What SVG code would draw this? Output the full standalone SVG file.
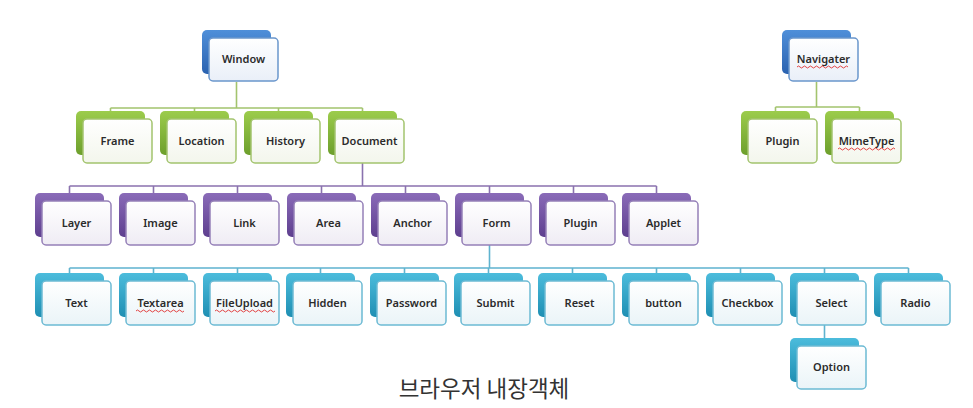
<svg xmlns="http://www.w3.org/2000/svg" width="973" height="408" viewBox="0 0 973 408">
<defs>
<linearGradient id="gBlueBack" x1="0" y1="0" x2="0" y2="1"><stop offset="0" stop-color="#4f8fd9"/><stop offset="1" stop-color="#2a62b0"/></linearGradient>
<linearGradient id="gGreenBack" x1="0" y1="0" x2="0" y2="1"><stop offset="0" stop-color="#9ccc4c"/><stop offset="1" stop-color="#6d9f2c"/></linearGradient>
<linearGradient id="gPurpleBack" x1="0" y1="0" x2="0" y2="1"><stop offset="0" stop-color="#8a6bb8"/><stop offset="1" stop-color="#5e3f8f"/></linearGradient>
<linearGradient id="gCyanBack" x1="0" y1="0" x2="0" y2="1"><stop offset="0" stop-color="#4cbcdc"/><stop offset="1" stop-color="#1f8fb3"/></linearGradient>
<linearGradient id="gBlueFront" x1="0" y1="0" x2="0" y2="1"><stop offset="0" stop-color="#ffffff"/><stop offset="1" stop-color="#e9eff8"/></linearGradient>
<linearGradient id="gGreenFront" x1="0" y1="0" x2="0" y2="1"><stop offset="0" stop-color="#ffffff"/><stop offset="1" stop-color="#f3f6ec"/></linearGradient>
<linearGradient id="gPurpleFront" x1="0" y1="0" x2="0" y2="1"><stop offset="0" stop-color="#ffffff"/><stop offset="1" stop-color="#efecf4"/></linearGradient>
<linearGradient id="gCyanFront" x1="0" y1="0" x2="0" y2="1"><stop offset="0" stop-color="#ffffff"/><stop offset="1" stop-color="#eaf4f8"/></linearGradient>
</defs>
<style>
.back{rx:5;ry:5}
.front{rx:4;ry:4;stroke-width:1.5}
.blue .back{fill:url(#gBlueBack)}
.blue .front{fill:url(#gBlueFront);stroke:#6a96cc}
.green .back{fill:url(#gGreenBack)}
.green .front{fill:url(#gGreenFront);stroke:#a3c46e}
.purple .back{fill:url(#gPurpleBack)}
.purple .front{fill:url(#gPurpleFront);stroke:#9580b8}
.cyan .back{fill:url(#gCyanBack)}
.cyan .front{fill:url(#gCyanFront);stroke:#6cbad4}
.lbl{font-family:"Noto Sans","Open Sans","Liberation Sans",sans-serif;font-size:11px;font-weight:600;fill:#2b2b2b;text-anchor:middle}
.cg{stroke:#a3c46e;stroke-width:1.6;fill:none}
.cp{stroke:#8a72ae;stroke-width:1.6;fill:none}
.cc{stroke:#5fb3cf;stroke-width:1.6;fill:none}
.sq{stroke:#e03030;stroke-width:0.9;fill:none}
.cap{font-family:"Noto Sans CJK KR","Noto Sans",sans-serif;font-size:22.5px;fill:#333;text-anchor:middle}
</style>

<g id="connectors">
<path class="cg" d="M236.5 82V108M110.5 108H362.5M110.5 108V112M194.5 108V112M278.5 108V112M362.5 108V112"/>
<path class="cg" d="M816.5 82V107M775.5 107H859.5M775.5 107V112M859.5 107V112"/>
<path class="cp" d="M362.5 163V186M69.5 186H656.5M69.5 186V194M153.5 186V194M237.5 186V194M321.5 186V194M405.5 186V194M489.5 186V194M573.5 186V194M656.5 186V194"/>
<path class="cc" d="M489.5 245V268M69.5 268H908.5M69.5 268V274M153.5 268V274M237.5 268V274M320.5 268V274M404.5 268V274M488.5 268V274M572.5 268V274M656.5 268V274M740.5 268V274M824.5 268V274M908.5 268V274M824.5 325V339"/>
</g>

<g id="window" class="blue" transform="translate(209,38)"><rect class="back" x="-7" y="-8" width="69" height="44"/><rect class="front" x="0" y="0" width="69" height="43"/><text class="lbl" x="34.5" y="24.5">Window</text></g>
<g id="navigater" class="blue" transform="translate(789,38)"><rect class="back" x="-7" y="-8" width="69" height="44"/><rect class="front" x="0" y="0" width="69" height="43"/><text class="lbl" x="34.5" y="24.5">Navigater</text><path class="sq" d="M8 29q1.5 -2 3 0t3 0t3 0t3 0t3 0t3 0t3 0t3 0t3 0t3 0t3 0t3 0t3 0t3 0t3 0t3 0t3 0"/></g>

<g id="frame" class="green" transform="translate(83,119)"><rect class="back" x="-7" y="-8" width="69" height="44"/><rect class="front" x="0" y="0" width="69" height="44"/><text class="lbl" x="34.5" y="26">Frame</text></g>
<g id="location" class="green" transform="translate(167,119)"><rect class="back" x="-7" y="-8" width="69" height="44"/><rect class="front" x="0" y="0" width="69" height="44"/><text class="lbl" x="34.5" y="26">Location</text></g>
<g id="history" class="green" transform="translate(251,119)"><rect class="back" x="-7" y="-8" width="69" height="44"/><rect class="front" x="0" y="0" width="69" height="44"/><text class="lbl" x="34.5" y="26">History</text></g>
<g id="document" class="green" transform="translate(335,119)"><rect class="back" x="-7" y="-8" width="69" height="44"/><rect class="front" x="0" y="0" width="69" height="44"/><text class="lbl" x="34.5" y="26">Document</text></g>
<g id="nav-plugin" class="green" transform="translate(748,119)"><rect class="back" x="-7" y="-8" width="69" height="44"/><rect class="front" x="0" y="0" width="69" height="44"/><text class="lbl" x="34.5" y="26">Plugin</text></g>
<g id="mimetype" class="green" transform="translate(832,119)"><rect class="back" x="-7" y="-8" width="69" height="44"/><rect class="front" x="0" y="0" width="69" height="44"/><text class="lbl" x="34.5" y="26">MimeType</text><path class="sq" d="M6 30q1.5 -2 3 0t3 0t3 0t3 0t3 0t3 0t3 0t3 0t3 0t3 0t3 0t3 0t3 0t3 0t3 0t3 0t3 0t3 0t3 0"/></g>

<g id="layer" class="purple" transform="translate(42,201)"><rect class="back" x="-7" y="-8" width="69" height="44"/><rect class="front" x="0" y="0" width="69" height="44"/><text class="lbl" x="34.5" y="26">Layer</text></g>
<g id="image" class="purple" transform="translate(126,201)"><rect class="back" x="-7" y="-8" width="69" height="44"/><rect class="front" x="0" y="0" width="69" height="44"/><text class="lbl" x="34.5" y="26">Image</text></g>
<g id="link" class="purple" transform="translate(210,201)"><rect class="back" x="-7" y="-8" width="69" height="44"/><rect class="front" x="0" y="0" width="69" height="44"/><text class="lbl" x="34.5" y="26">Link</text></g>
<g id="area" class="purple" transform="translate(294,201)"><rect class="back" x="-7" y="-8" width="69" height="44"/><rect class="front" x="0" y="0" width="69" height="44"/><text class="lbl" x="34.5" y="26">Area</text></g>
<g id="anchor" class="purple" transform="translate(378,201)"><rect class="back" x="-7" y="-8" width="69" height="44"/><rect class="front" x="0" y="0" width="69" height="44"/><text class="lbl" x="34.5" y="26">Anchor</text></g>
<g id="form" class="purple" transform="translate(462,201)"><rect class="back" x="-7" y="-8" width="69" height="44"/><rect class="front" x="0" y="0" width="69" height="44"/><text class="lbl" x="34.5" y="26">Form</text></g>
<g id="doc-plugin" class="purple" transform="translate(546,201)"><rect class="back" x="-7" y="-8" width="69" height="44"/><rect class="front" x="0" y="0" width="69" height="44"/><text class="lbl" x="34.5" y="26">Plugin</text></g>
<g id="applet" class="purple" transform="translate(629,201)"><rect class="back" x="-7" y="-8" width="69" height="44"/><rect class="front" x="0" y="0" width="69" height="44"/><text class="lbl" x="34.5" y="26">Applet</text></g>

<g id="text" class="cyan" transform="translate(42,281)"><rect class="back" x="-7" y="-8" width="69" height="44"/><rect class="front" x="0" y="0" width="69" height="44"/><text class="lbl" x="34.5" y="26">Text</text></g>
<g id="textarea" class="cyan" transform="translate(126,281)"><rect class="back" x="-7" y="-8" width="69" height="44"/><rect class="front" x="0" y="0" width="69" height="44"/><text class="lbl" x="34.5" y="26">Textarea</text><path class="sq" d="M10 30q1.5 -2 3 0t3 0t3 0t3 0t3 0t3 0t3 0t3 0t3 0t3 0t3 0t3 0t3 0t3 0t3 0t3 0"/></g>
<g id="fileupload" class="cyan" transform="translate(210,281)"><rect class="back" x="-7" y="-8" width="69" height="44"/><rect class="front" x="0" y="0" width="69" height="44"/><text class="lbl" x="34.5" y="26">FileUpload</text><path class="sq" d="M5 30q1.5 -2 3 0t3 0t3 0t3 0t3 0t3 0t3 0t3 0t3 0t3 0t3 0t3 0t3 0t3 0t3 0t3 0t3 0t3 0t3 0t3 0"/></g>
<g id="hidden" class="cyan" transform="translate(293,281)"><rect class="back" x="-7" y="-8" width="69" height="44"/><rect class="front" x="0" y="0" width="69" height="44"/><text class="lbl" x="34.5" y="26">Hidden</text></g>
<g id="password" class="cyan" transform="translate(377,281)"><rect class="back" x="-7" y="-8" width="69" height="44"/><rect class="front" x="0" y="0" width="69" height="44"/><text class="lbl" x="34.5" y="26">Password</text></g>
<g id="submit" class="cyan" transform="translate(461,281)"><rect class="back" x="-7" y="-8" width="69" height="44"/><rect class="front" x="0" y="0" width="69" height="44"/><text class="lbl" x="34.5" y="26">Submit</text></g>
<g id="reset" class="cyan" transform="translate(545,281)"><rect class="back" x="-7" y="-8" width="69" height="44"/><rect class="front" x="0" y="0" width="69" height="44"/><text class="lbl" x="34.5" y="26">Reset</text></g>
<g id="button" class="cyan" transform="translate(629,281)"><rect class="back" x="-7" y="-8" width="69" height="44"/><rect class="front" x="0" y="0" width="69" height="44"/><text class="lbl" x="34.5" y="26">button</text></g>
<g id="checkbox" class="cyan" transform="translate(713,281)"><rect class="back" x="-7" y="-8" width="69" height="44"/><rect class="front" x="0" y="0" width="69" height="44"/><text class="lbl" x="34.5" y="26">Checkbox</text></g>
<g id="select" class="cyan" transform="translate(797,281)"><rect class="back" x="-7" y="-8" width="69" height="44"/><rect class="front" x="0" y="0" width="69" height="44"/><text class="lbl" x="34.5" y="26">Select</text></g>
<g id="radio" class="cyan" transform="translate(881,281)"><rect class="back" x="-7" y="-8" width="69" height="44"/><rect class="front" x="0" y="0" width="69" height="44"/><text class="lbl" x="34.5" y="26">Radio</text></g>
<g id="option" class="cyan" transform="translate(797,346)"><rect class="back" x="-7" y="-8" width="69" height="44"/><rect class="front" x="0" y="0" width="69" height="43"/><text class="lbl" x="34.5" y="25">Option</text></g>

<text class="cap" x="484" y="397">브라우저 내장객체</text>
</svg>
